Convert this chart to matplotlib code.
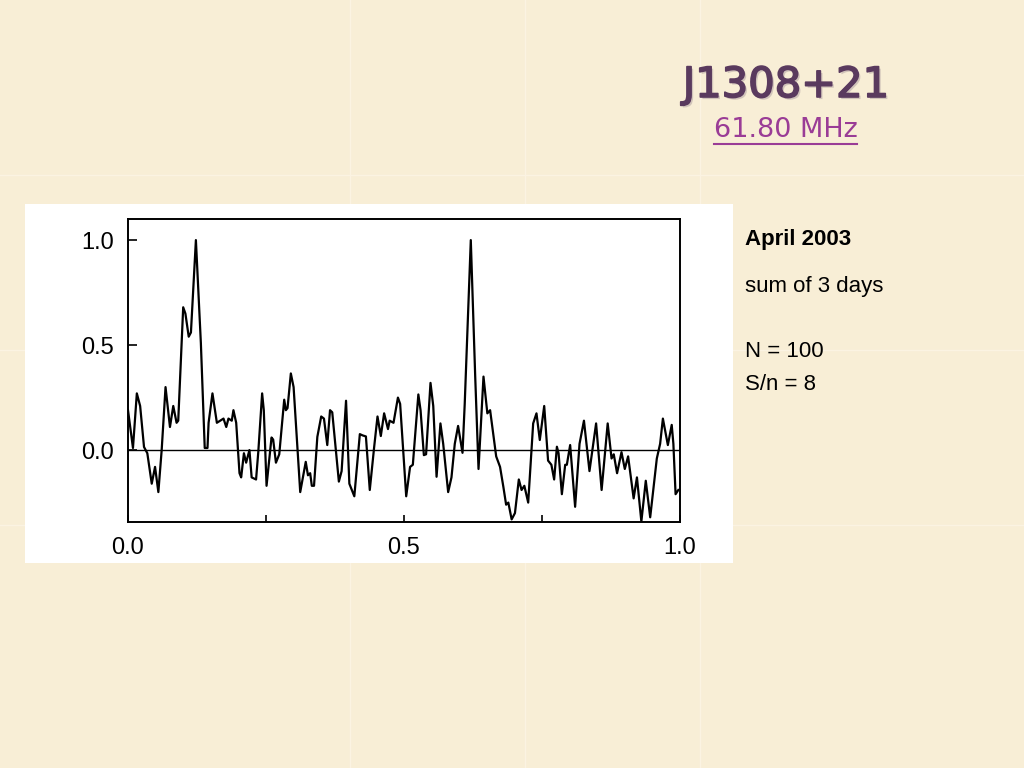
import matplotlib.pyplot as plt
from matplotlib.patches import Rectangle
from matplotlib.lines import Line2D
import matplotlib.patheffects as pe

# pulse profile (phase, normalised intensity)
phase = [
    0.000, 0.009, 0.016, 0.022, 0.029, 0.035, 0.043, 0.049, 0.055, 0.061,
    0.068, 0.076, 0.082, 0.088, 0.091, 0.100, 0.104, 0.110, 0.114, 0.123,
    0.132, 0.139, 0.144, 0.146, 0.153, 0.161, 0.167, 0.173, 0.178, 0.182,
    0.188, 0.191, 0.196, 0.202, 0.205, 0.210, 0.214, 0.220, 0.224, 0.232,
    0.236, 0.243, 0.246, 0.251, 0.260, 0.263, 0.268, 0.274, 0.283, 0.286,
    0.289, 0.295, 0.300, 0.312, 0.322, 0.326, 0.330, 0.333, 0.337, 0.343,
    0.350, 0.355, 0.361, 0.366, 0.370, 0.382, 0.387, 0.395, 0.401, 0.410,
    0.420, 0.425, 0.431, 0.438, 0.446, 0.452, 0.458, 0.464, 0.471, 0.474,
    0.481, 0.489, 0.493, 0.504, 0.511, 0.516, 0.526, 0.530, 0.536, 0.540,
    0.548, 0.553, 0.559, 0.566, 0.571, 0.580, 0.586, 0.592, 0.598, 0.606,
    0.610, 0.621, 0.629, 0.635, 0.644, 0.651, 0.656, 0.667, 0.674, 0.680,
    0.685, 0.689, 0.695, 0.701, 0.708, 0.713, 0.718, 0.725, 0.734, 0.740,
    0.746, 0.754, 0.761, 0.767, 0.772, 0.777, 0.780, 0.786, 0.792, 0.795,
    0.801, 0.810, 0.818, 0.826, 0.836, 0.848, 0.858, 0.869, 0.876, 0.880,
    0.886, 0.894, 0.900, 0.906, 0.916, 0.922, 0.930, 0.938, 0.946, 0.958,
    0.964, 0.969, 0.978, 0.985, 0.988, 0.992, 0.997,
]
intensity = [
    0.19, 0.01, 0.27, 0.21, 0.015, -0.015, -0.16, -0.08, -0.20, 0.00,
    0.30, 0.11, 0.21, 0.13, 0.14, 0.68, 0.65, 0.54, 0.56, 1.00,
    0.51, 0.01, 0.01, 0.13, 0.27, 0.13, 0.14, 0.15, 0.11, 0.15,
    0.14, 0.19, 0.13, -0.11, -0.13, -0.015, -0.06, 0.00, -0.13, -0.14,
    -0.01, 0.27, 0.19, -0.17, 0.06, 0.05, -0.06, -0.02, 0.24, 0.19,
    0.20, 0.365, 0.30, -0.20, -0.056, -0.12, -0.11, -0.17, -0.17, 0.063,
    0.16, 0.15, 0.024, 0.19, 0.18, -0.15, -0.10, 0.235, -0.16, -0.22,
    0.076, 0.07, 0.065, -0.19, 0.016, 0.16, 0.067, 0.175, 0.10, 0.14,
    0.13, 0.25, 0.22, -0.22, -0.08, -0.07, 0.265, 0.19, -0.024, -0.02,
    0.32, 0.21, -0.127, 0.127, 0.03, -0.20, -0.13, 0.03, 0.115, -0.013,
    0.22, 1.00, 0.35, -0.09, 0.35, 0.175, 0.19, -0.03, -0.08, -0.175,
    -0.26, -0.25, -0.33, -0.30, -0.14, -0.19, -0.17, -0.25, 0.127, 0.175,
    0.048, 0.21, -0.05, -0.07, -0.14, 0.016, -0.015, -0.21, -0.07, -0.07,
    0.024, -0.27, 0.03, 0.14, -0.10, 0.127, -0.19, 0.127, -0.04, -0.02,
    -0.11, -0.01, -0.09, -0.03, -0.23, -0.13, -0.34, -0.146, -0.32, -0.04,
    0.03, 0.15, 0.024, 0.12, 0.03, -0.21, -0.19,
]

xtick_vals = [0.0, 0.5, 1.0]
xtick_labels = ["0.0", "0.5", "1.0"]
ytick_vals = [0.0, 0.5, 1.0]
ytick_labels = ["0.0", "0.5", "1.0"]

title = "J1308+21"
subtitle = "61.80 MHz"
notes_bold = "April 2003"
notes = ["sum of 3 days", "N = 100", "S/n = 8"]

W, H = 1024, 768
fig = plt.figure(figsize=(W / 100, H / 100), dpi=100)
fig.patch.set_facecolor("#f8eed6")

# faint tile seams of the slide background
for xs in [350, 525, 700]:
    fig.add_artist(Line2D([xs / W, xs / W], [0, 1], color="#fbf3e2", lw=1.0, zorder=-2))
for ys in [175, 350, 525]:
    fig.add_artist(Line2D([0, 1], [1 - ys / H, 1 - ys / H], color="#fbf3e2", lw=1.0, zorder=-2))

# white panel behind the plot
fig.add_artist(Rectangle((25 / W, 1 - 563 / H), 708 / W, 359 / H,
                         facecolor="white", edgecolor="none", zorder=-1))

ax = fig.add_axes([128 / W, 1 - 521.7 / H, 552 / W, 302.4 / H])
ax.set_facecolor("white")
ax.plot(phase, intensity, color="black", lw=1.6)
ax.axhline(0, color="black", lw=1.0)
ax.set_xlim(0, 1)
ax.set_ylim(-0.341, 1.099)

ax.set_xticks(xtick_vals)
ax.set_xticklabels(xtick_labels)
ax.set_xticks([0.25, 0.75], minor=True)
ax.set_yticks(ytick_vals)
ax.set_yticklabels(ytick_labels)
ax.tick_params(axis="x", which="both", direction="in", length=5, width=1.2,
               pad=11, labelsize=17)
ax.tick_params(axis="y", direction="in", length=6.5, width=1.2, pad=10,
               labelsize=17)
for lab in ax.get_xticklabels() + ax.get_yticklabels():
    lab.set_family("Liberation Sans")
for sp in ax.spines.values():
    sp.set_linewidth(1.4)

# slide title
shadow = [pe.withSimplePatchShadow(offset=(1.5, -1.5), shadow_rgbFace="#b8a8a8", alpha=0.6),
          pe.Stroke(linewidth=1.2, foreground="#5a3a5e"), pe.Normal()]
fig.text(786 / W, 1 - 85 / H, title, ha="center", va="center", fontsize=30,
         color="#5a3a5e", family="DejaVu Sans", path_effects=shadow)
fig.text(786 / W, 1 - 130 / H, subtitle, ha="center", va="center", fontsize=19.5,
         color="#9a3c96", family="DejaVu Sans")
fig.add_artist(Line2D([714 / W, 857 / W], [1 - 144 / H, 1 - 144 / H],
                      color="#9a3c96", lw=1.5))

# notes on the right
fig.text(745 / W, 1 - 245 / H, notes_bold, ha="left", va="baseline",
         fontsize=16, fontweight="bold", family="Liberation Sans", color="black")
for txt, yb in zip(notes, [291.5, 357, 389.5]):
    fig.text(745 / W, 1 - yb / H, txt, ha="left", va="baseline",
             fontsize=16, family="Liberation Sans", color="black")

fig.savefig("out.png", dpi=100, facecolor=fig.get_facecolor())
